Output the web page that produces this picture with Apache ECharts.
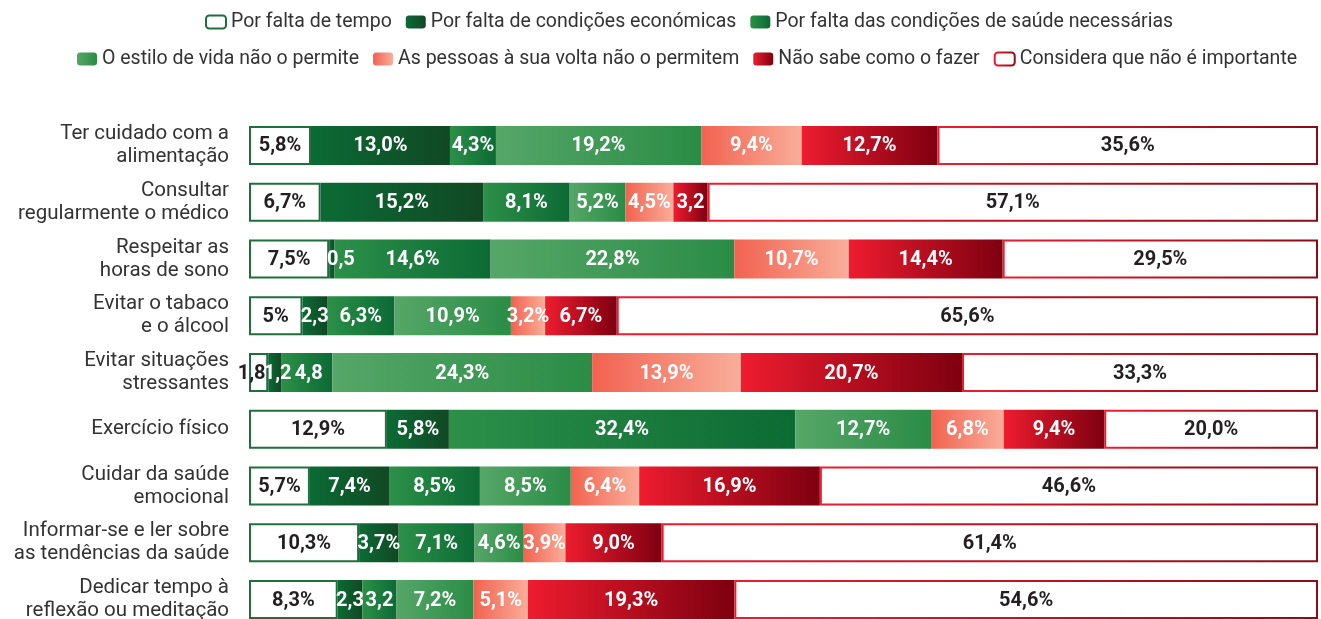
<!DOCTYPE html>
<html>
<head>
<meta charset="utf-8">
<script src="https://cdn.jsdelivr.net/npm/echarts@6/dist/echarts.min.js"></script>
<style>
  html, body { margin: 0; padding: 0; background: #fff; }
  #chart { width: 1321px; height: 619px; }
</style>
</head>
<body>
<div id="chart"></div>
<script>
// Health habits: reasons for not practising each one (% of respondents)
const categories = [
  'Ter cuidado com a\nalimentação',
  'Consultar\nregularmente o médico',
  'Respeitar as\nhoras de sono',
  'Evitar o tabaco\ne o álcool',
  'Evitar situações\nstressantes',
  'Exercício físico',
  'Cuidar da saúde\nemocional',
  'Informar-se e ler sobre\nas tendências da saúde',
  'Dedicar tempo à\nreflexão ou meditação'
];

const seriesNames = [
  'Por falta de tempo',
  'Por falta de condições económicas',
  'Por falta das condições de saúde necessárias',
  'O estilo de vida não o permite',
  'As pessoas à sua volta não o permitem',
  'Não sabe como o fazer',
  'Considera que não é importante'
];

const faltaTempo     = [5.8, 6.7, 7.5, 5.0, 1.8, 12.9, 5.7, 10.3, 8.3];
const faltaEconomica = [13.0, 15.2, 0.5, 2.3, 1.2, 5.8, 7.4, 3.7, 2.3];
const faltaSaude     = [4.3, 8.1, 14.6, 6.3, 4.8, 32.4, 8.5, 7.1, 3.2];
const estiloVida     = [19.2, 5.2, 22.8, 10.9, 24.3, 12.7, 8.5, 4.6, 7.2];
const pessoasVolta   = [9.4, 4.5, 10.7, 3.2, 13.9, 6.8, 6.4, 3.9, 5.1];
const naoSabe        = [12.7, 3.2, 14.4, 6.7, 20.7, 9.4, 16.9, 9.0, 19.3];
const naoImportante  = [35.6, 57.1, 29.5, 65.6, 33.3, 20.0, 46.6, 61.4, 54.6];

// labels printed without the % sign ([series, row])
const shortLabels = [[0, 4], [1, 2], [1, 3], [1, 4], [1, 8], [2, 4], [2, 8], [5, 1]];
// labels printed as whole numbers ([series, row])
const wholeLabels = [[0, 3]];

const allValues = [faltaTempo, faltaEconomica, faltaSaude, estiloVida, pessoasVolta, naoSabe, naoImportante];

// horizontal nudges (px) for labels on very thin segments: [series, row, dx]
const labelNudges = [[1, 2, 9], [0, 4, -7], [1, 4, 3], [2, 4, 2]];

function grad(a, b) {
  return new echarts.graphic.LinearGradient(0, 0, 1, 0, [
    { offset: 0, color: a }, { offset: 1, color: b }
  ]);
}

const styles = [
  { color: '#ffffff', borderColor: '#1f6f3d', borderWidth: 2, text: '#231f20' },
  { color: grad('#0b6b35', '#114824'), text: '#ffffff' },
  { color: grad('#2c9049', '#0c6a34'), text: '#ffffff' },
  { color: grad('#56a767', '#2a8c46'), text: '#ffffff' },
  { color: grad('#f26250', '#f8ae9a'), text: '#ffffff' },
  { color: grad('#ee1c2f', '#7e0010'), text: '#ffffff' },
  { color: '#ffffff', borderColor: grad('#ee1c2f', '#8a0c17'), borderWidth: 2, text: '#231f20' }
];

function has(list, s, r) {
  return list.some(p => p[0] === s && p[1] === r);
}

function labelText(s, r, v) {
  if (has(wholeLabels, s, r)) return v.toFixed(0) + '%';
  const t = v.toFixed(1).replace('.', ',');
  return has(shortLabels, s, r) ? t : t + '%';
}

const series = seriesNames.map((name, s) => ({
  name: name,
  type: 'bar',
  stack: 'total',
  barWidth: 39,
  data: allValues[s].map((v, r) => {
    const n = labelNudges.find(p => p[0] === s && p[1] === r);
    return n ? { value: v, label: { offset: [n[2], 1] } } : v;
  }),
  itemStyle: {
    color: styles[s].color,
    borderColor: styles[s].borderColor || 'transparent',
    borderWidth: styles[s].borderWidth || 0
  },
  label: {
    show: true,
    position: 'inside',
    offset: [0, 1],
    color: styles[s].text,
    fontFamily: 'Roboto',
    fontWeight: 'bold',
    fontSize: 20,
    formatter: p => labelText(s, p.dataIndex, p.value)
  },
  emphasis: { disabled: true }
}));

const legendText = { fontFamily: 'Roboto', fontSize: 19.5, color: '#333333' };

const chart = echarts.init(document.getElementById('chart'), null, { renderer: 'canvas' });
chart.setOption({
  animation: false,
  backgroundColor: '#ffffff',
  legend: [
    {
      data: seriesNames.slice(0, 3),
      top: 7, left: 200,
      itemWidth: 20, itemHeight: 13, itemGap: 14,
      textStyle: legendText,
      selectedMode: false
    },
    {
      data: seriesNames.slice(3),
      top: 44, left: 72,
      itemWidth: 20, itemHeight: 13, itemGap: 14,
      textStyle: legendText,
      selectedMode: false
    }
  ],
  grid: { left: 249, right: 3, top: 117, height: 511, outerBoundsMode: 'none' },
  xAxis: {
    type: 'value', min: 0, max: 100, show: false
  },
  yAxis: {
    type: 'category',
    inverse: true,
    data: categories,
    axisLine: { show: false },
    axisTick: { show: false },
    axisLabel: {
      margin: 20,
      padding: [4, 0, 0, 0],
      fontFamily: 'Roboto',
      fontSize: 20.5,
      lineHeight: 23,
      color: '#333333',
      align: 'right'
    }
  },
  series: series
});
</script>
</body>
</html>
